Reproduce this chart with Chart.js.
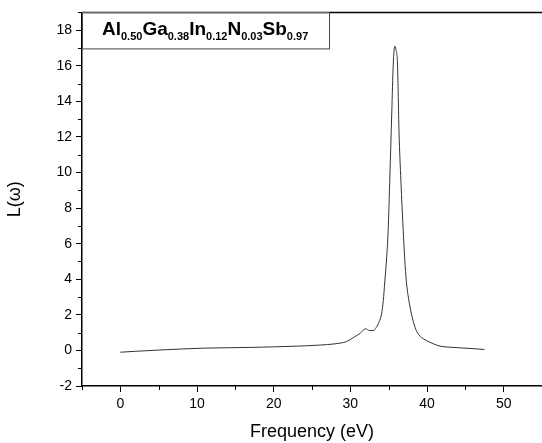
<!DOCTYPE html>
<html>
<head>
<meta charset="utf-8">
<script src="https://cdn.jsdelivr.net/npm/chart.js@4.4.1/dist/chart.umd.min.js"></script>
<style>
  body { margin: 0; background: #fff; }
  canvas { display: block; }
</style>
</head>
<body>
<canvas id="chart" width="542" height="443"></canvas>
<script>
// Energy loss function L(w)
const freqEv = [0, 2, 5, 8, 11, 14, 17, 20, 23, 26, 28, 29.5, 30.5, 31.3, 32.0, 32.5, 33.0, 33.4, 33.75, 34.07,
    34.3, 34.5, 34.75, 34.93, 35.16, 35.4, 35.6, 35.8, 35.95, 36.15, 36.35, 36.6, 36.9, 37.1, 37.3, 37.6, 37.97,
    38.3, 38.6, 38.9, 39.3, 39.9, 40.8, 41.7, 43.0, 44.5, 46.0, 47.5];
const lossL = [-0.1, -0.05, 0.02, 0.08, 0.13, 0.15, 0.17, 0.2, 0.24, 0.3, 0.37, 0.5, 0.75, 0.97, 1.22, 1.12, 1.12, 1.3, 1.6, 2.05,
    2.8, 3.9, 5.3, 6.7, 9.8, 13.3, 16.1, 17.1, 16.9, 16.1, 12.3, 9.5, 6.7, 5.1, 3.9, 2.9, 2.05,
    1.5, 1.12, 0.9, 0.72, 0.56, 0.38, 0.24, 0.18, 0.14, 0.1, 0.05];

// Title pieces: [text, isSubscript]
const titleParts = [['Al', false], ['0.50', true], ['Ga', false], ['0.38', true], ['In', false], ['0.12', true],
    ['N', false], ['0.03', true], ['Sb', false], ['0.97', true]];

const FONT = '"Liberation Sans", Arial, sans-serif';

// minor ticks (unlabelled) + top frame line + composition box
const framePlugin = {
    id: 'frame',
    afterDraw(chart) {
        const ctx = chart.ctx;
        const area = chart.chartArea;
        ctx.save();
        ctx.strokeStyle = '#000';
        ctx.lineWidth = 1;
        const xs = chart.scales.x;
        xs.ticks.forEach((t, i) => {
            if (t.label !== '') return;
            const px = Math.round(xs.getPixelForTick(i)) + 0.5;
            ctx.beginPath();
            ctx.moveTo(px, area.bottom);
            ctx.lineTo(px, area.bottom + 4);
            ctx.stroke();
        });
        const ys = chart.scales.y;
        ys.ticks.forEach((t, i) => {
            if (t.label !== '') return;
            const py = Math.round(ys.getPixelForTick(i)) + 0.5;
            ctx.beginPath();
            ctx.moveTo(area.left - 4, py);
            ctx.lineTo(area.left, py);
            ctx.stroke();
        });
        // top line of the frame
        ctx.lineWidth = 1.5;
        ctx.beginPath();
        ctx.moveTo(area.left, area.top);
        ctx.lineTo(area.right, area.top);
        ctx.stroke();

        // composition label box
        const bx = area.left, by = area.top, bw = 247, bh = 36;
        ctx.fillStyle = '#fff';
        ctx.fillRect(bx, by, bw, bh);
        ctx.strokeStyle = '#444';
        ctx.lineWidth = 1;
        ctx.strokeRect(bx + 0.5, by + 0.5, bw, bh);
        ctx.fillStyle = '#000';
        ctx.textBaseline = 'alphabetic';
        let x = bx + 20;
        titleParts.forEach(([txt, sub]) => {
            ctx.font = 'bold ' + (sub ? 11 : 19) + 'px ' + FONT;
            ctx.fillText(txt, x, by + (sub ? 28 : 23));
            x += ctx.measureText(txt).width;
        });
        ctx.restore();
    }
};

const points = freqEv.map((f, i) => ({ x: f, y: lossL[i] }));

new Chart(document.getElementById('chart'), {
    type: 'line',
    data: {
        datasets: [{
            data: points,
            borderColor: '#333',
            borderWidth: 1,
            pointRadius: 0,
            fill: false,
            cubicInterpolationMode: 'monotone'
        }]
    },
    options: {
        responsive: false,
        animation: false,
        layout: { padding: { top: 12, left: 0, right: 0, bottom: 0 } },
        plugins: { legend: { display: false }, tooltip: { enabled: false } },
        scales: {
            x: {
                type: 'linear',
                min: -5,
                max: 55,
                afterFit: s => { s.height = 57; s.paddingRight = 0; },
                border: { color: '#000', width: 1.5 },
                grid: {
                    drawOnChartArea: false,
                    tickLength: 6,
                    tickColor: c => (c.tick && c.tick.label === '') ? 'rgba(0,0,0,0)' : '#000'
                },
                ticks: {
                    stepSize: 5,
                    color: '#000',
                    padding: 4,
                    maxRotation: 0,
                    autoSkip: false,
                    font: { family: FONT, size: 14 },
                    callback: v => (v % 10 === 0 ? String(v) : '')
                },
                title: {
                    display: true,
                    text: 'Frequency (eV)',
                    color: '#000',
                    padding: { top: 2, bottom: 0 },
                    font: { family: FONT, size: 18 }
                }
            },
            y: {
                min: -2,
                max: 19,
                afterFit: s => { s.width = 82; },
                border: { color: '#000', width: 1.5 },
                grid: {
                    drawOnChartArea: false,
                    tickLength: 6,
                    tickColor: c => (c.tick && c.tick.label === '') ? 'rgba(0,0,0,0)' : '#000'
                },
                ticks: {
                    stepSize: 1,
                    color: '#000',
                    padding: 4,
                    autoSkip: false,
                    font: { family: FONT, size: 14 },
                    callback: v => (v % 2 === 0 ? String(v) : '')
                },
                title: {
                    display: true,
                    text: 'L(ω)',
                    color: '#000',
                    padding: { top: 4, bottom: 0 },
                    font: { family: FONT, size: 18 }
                }
            }
        }
    },
    plugins: [framePlugin]
});
</script>
</body>
</html>
